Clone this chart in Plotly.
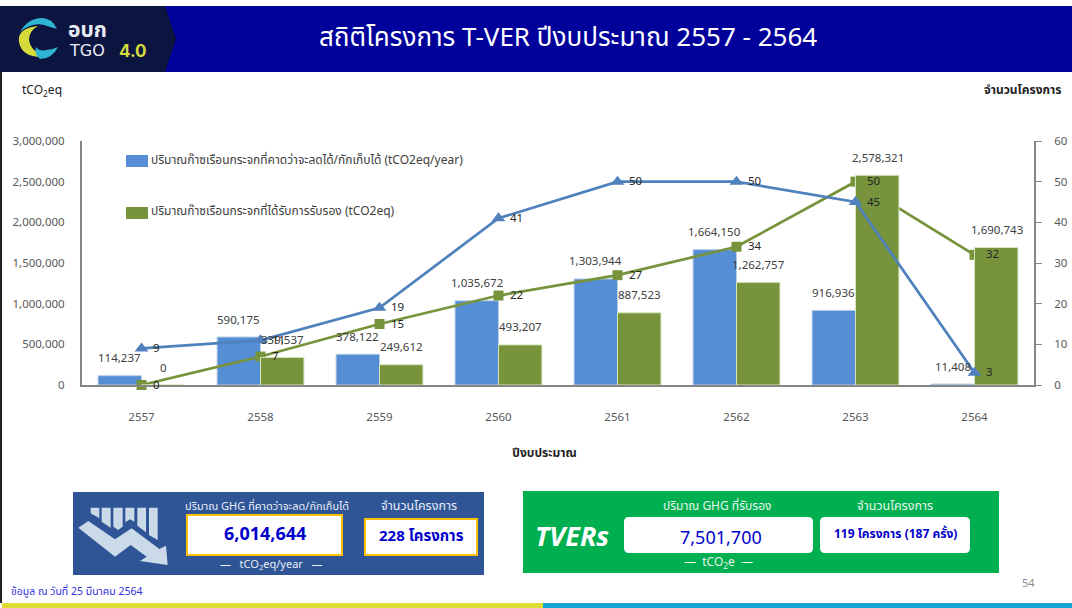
import plotly.graph_objects as go

# ---- data ----
years = ["2557", "2558", "2559", "2560", "2561", "2562", "2563", "2564"]
expected_ghg = [114237, 590175, 378122, 1035672, 1303944, 1664150, 916936, 11408]
certified_ghg = [0, 339537, 249612, 493207, 887523, 1262757, 2578321, 1690743]
registered_projects = [9, 11, 19, 41, 50, 50, 45, 3]
certified_projects = [0, 7, 15, 22, 27, 34, 50, 32]
name_expected = "ปริมาณก๊าซเรือนกระจกที่คาดว่าจะลดได้/กักเก็บได้ (tCO2eq/year)"
name_certified = "ปริมาณก๊าซเรือนกระจกที่ได้รับการรับรอง (tCO2eq)"
title_text = "สถิติโครงการ T-VER ปีงบประมาณ 2557 - 2564"

W, H = 1072, 608
L, R, T, B = 82, 1034, 141, 385
FONT = "Tahoma, 'Noto Sans Thai', 'Noto Sans', sans-serif"
BLUE_BAR, GREEN = "#558ED5", "#77933C"
BLUE_LINE = "#4F81BD"
AXIS = "#868686"
TXT = "#404040"
TICK = "#595959"


def fx(x):
    return (x - L) / (R - L)


def fy(y):
    return (B - y) / (B - T)


shapes, annos = [], []


def rect(x0, y0, x1, y1, fill, line=None, lw=0):
    shapes.append(dict(type="rect", xref="paper", yref="paper", x0=fx(x0), x1=fx(x1), y0=fy(y1), y1=fy(y0),
                       fillcolor=fill, line=dict(color=line or fill, width=lw), layer="below"))


def poly(points, fill):
    d = "M " + " L ".join(f"{fx(a):.5f},{fy(b):.5f}" for a, b in points) + " Z"
    shapes.append(dict(type="path", xref="paper", yref="paper", path=d, fillcolor=fill, line=dict(width=0), layer="below"))


def curve(cmds, fill):
    out = []
    for c in cmds:
        out.append(c[0] + " " + " ".join(f"{fx(c[i]):.5f},{fy(c[i+1]):.5f}" for i in range(1, len(c), 2)))
    shapes.append(dict(type="path", xref="paper", yref="paper", path=" ".join(out) + " Z", fillcolor=fill,
                       line=dict(width=0), layer="below"))


def round_rect(x0, y0, x1, y1, r, fill):
    curve([("M", x0 + r, y0), ("L", x1 - r, y0), ("Q", x1, y0, x1, y0 + r), ("L", x1, y1 - r), ("Q", x1, y1, x1 - r, y1),
           ("L", x0 + r, y1), ("Q", x0, y1, x0, y1 - r), ("L", x0, y0 + r), ("Q", x0, y0, x0 + r, y0)], fill)


def label(x, y, text, size=12, color=TXT, anchor="center", bold=False, family=FONT):
    annos.append(dict(xref="paper", yref="paper", x=fx(x), y=fy(y), text=f"<b>{text}</b>" if bold else text,
                      showarrow=False, xanchor=anchor, yanchor="middle",
                      font=dict(size=size, color=color, family=family)))


# header
rect(0, 6, W, 72, "#00009A")
poly([(0, 6), (165, 6), (176, 39), (165, 72), (0, 72)], "#0C1440")
rect(0, 72, 2, 603, "#222222")
curve([("M", 38, 26), ("Q", 17, 28, 19, 42), ("Q", 22, 58, 44, 57), ("Q", 30, 50, 29, 40), ("Q", 29, 31, 38, 26)], "#D6DB3C")
curve([("M", 20, 32), ("Q", 28, 18, 42, 18), ("Q", 52, 18, 57, 29), ("Q", 50, 27, 44, 25), ("Q", 32, 22, 20, 32)], "#2FB4D2")
curve([("M", 40, 59), ("Q", 52, 59, 58, 47), ("Q", 52, 50, 46, 50), ("Q", 40, 52, 36, 47), ("Q", 34, 54, 40, 59)], "#2FB4D2")
label(87, 30, "อบก", 21, "#E8ECF2", bold=True)
label(87, 51, "TGO", 16, "#E8ECF2", family="'DejaVu Sans', sans-serif")
label(133, 51, "4.0", 17, "#D6DB3C", bold=True, family="Inter, sans-serif")
label(568, 38, title_text, 26, "#FFFFFF")

# axis captions
label(42, 91, "tCO<sub>2</sub>eq", 12, "#222222")
label(1063, 90, "จำนวนโครงการ", 12, "#222222", anchor="right", bold=True)
label(544, 453, "ปีงบประมาณ", 12, "#222222", bold=True)

# legend
rect(126, 155, 148, 167, BLUE_BAR)
rect(126, 207, 148, 219, GREEN)
label(149, 160, name_expected, 12, TXT, anchor="left")
label(149, 211, name_certified, 12, TXT, anchor="left")

# blue panel
rect(73, 492, 484, 575, "#2F5597")
ICON = "#CADAE8"
ox, oy = 0, 485
icon_bars = [
    [(272, 68), (298, 68), (298, 100), (272, 85)],
    [(305, 68), (332, 68), (332, 128), (305, 110)],
    [(340, 68), (368, 68), (368, 125), (354, 135), (340, 125)],
    [(376, 68), (403, 68), (403, 110), (390, 103), (376, 112)],
    [(412, 68), (438, 68), (438, 142), (412, 122)],
    [(447, 68), (473, 68), (473, 165), (447, 150)],
    [(235, 128), (265, 108), (345, 163), (395, 130), (478, 192), (498, 182), (503, 240), (420, 228),
     (440, 215), (392, 180), (345, 215)],
]
for b in icon_bars:
    poly([(ox + a / 3, oy + c / 3) for a, c in b], ICON)
rect(187, 515, 342, 555, "#FFFFFF", "#FFC000", 2)
rect(365, 519, 477, 555, "#FFFFFF", "#FFC000", 2)
label(267, 506, "ปริมาณ GHG ที่คาดว่าจะลด/กักเก็บได้", 11, "#E8EEF6")
label(419, 506, "จำนวนโครงการ", 12.5, "#E8EEF6")
label(265, 534, "6,014,644", 18, "#0000CC", bold=True)
label(421, 536, "228 โครงการ", 15, "#0000CC", bold=True)
label(271, 564, "—   tCO<sub>2</sub>eq/year   —", 11, "#E8EEF6")

# green panel
rect(523, 491, 999, 573, "#00B050")
round_rect(624, 517, 813, 553, 5, "#FFFFFF")
round_rect(820, 517, 970, 553, 5, "#FFFFFF")
label(572, 535, "<b><i>TVERs</i></b>", 27, "#FFFFFF", family="'Open Sans', sans-serif")
label(717, 506, "ปริมาณ GHG ที่รับรอง", 12, "#E8F6EE")
label(895, 506, "จำนวนโครงการ", 12.5, "#E8F6EE")
label(721, 538, "7,501,700", 18, "#0000CC")
label(895, 534, "119 โครงการ (187 ครั้ง)", 12, "#0000CC", bold=True)
label(718, 563, "—  tCO<sub>2</sub>e  —", 12, "#E8F6EE")

# footer
label(9, 592, "ข้อมูล ณ วันที่ 25 มีนาคม 2564", 10.5, "#3333DD", anchor="left")
label(1028, 583, "54", 11, "#8C8C8C")
rect(2, 603, 543, 608, "#DDDD33")
rect(543, 603, W, 608, "#13A5D6")

# data labels, placed from the data values on the axes (category axis positions are serial numbers)
for i, v in enumerate(expected_ghg):
    annos.append(dict(x=i, y=v, xref="x", yref="y", text=f"{v:,}", showarrow=False, xshift=-22, yshift=17,
                      yanchor="middle", font=dict(size=11.5, color=TXT, family=FONT)))
for i, v in enumerate(certified_ghg):
    annos.append(dict(x=i, y=v, xref="x", yref="y", text=f"{v:,}", showarrow=False, xshift=22, yshift=17,
                      yanchor="middle", font=dict(size=11.5, color=TXT, family=FONT)))
for i, v in enumerate(registered_projects):
    annos.append(dict(x=i, y=v, xref="x", yref="y2", text=str(v), showarrow=False, xshift=9, xanchor="left",
                      yanchor="middle", font=dict(size=11.5, color="#262626", family=FONT)))
for i, v in enumerate(certified_projects):
    annos.append(dict(x=i, y=v, xref="x", yref="y2", text=str(v), showarrow=False, xshift=9, xanchor="left",
                      yanchor="middle", font=dict(size=11.5, color="#262626", family=FONT)))

fig = go.Figure()
# draw order in the source: blue bars, green line, green bars, blue line
fig.add_bar(x=years, y=expected_ghg, name=name_expected, yaxis="y", width=0.365, offset=-0.365,
            marker=dict(color=BLUE_BAR, line=dict(color="#B9CDE5", width=1)))
fig.add_scatter(x=years, y=certified_projects, yaxis="y2", mode="lines+markers", cliponaxis=False,
                name="จำนวนโครงการที่รับรอง",
                line=dict(color=GREEN, width=2.75), marker=dict(symbol="square", size=10, color=GREEN))
fig.add_bar(x=years, y=certified_ghg, name=name_certified, yaxis="y3", width=0.365, offset=0,
            marker=dict(color=GREEN, line=dict(color="#D7E4BD", width=1)))
fig.add_scatter(x=years, y=registered_projects, yaxis="y4", mode="lines+markers", cliponaxis=False,
                name="จำนวนโครงการที่ขึ้นทะเบียน",
                line=dict(color=BLUE_LINE, width=2.75), marker=dict(symbol="triangle-up", size=12, color=BLUE_LINE))

left_range, right_range = [0, 3000000], [0, 60]
fig.update_layout(
    width=W, height=H, margin=dict(l=L, r=W - R, t=T, b=H - B, autoexpand=False),
    paper_bgcolor="#FFFFFF", plot_bgcolor="rgba(0,0,0,0)", showlegend=False,
    font=dict(family=FONT, size=12, color=TXT),
    xaxis=dict(type="category", range=[-0.5, 7.5], showgrid=False, showline=True, linecolor=AXIS, linewidth=2,
               ticks="", ticklabelstandoff=20, zeroline=False, tickfont=dict(size=11.5, color=TICK)),
    yaxis=dict(range=left_range, tickvals=[0, 500000, 1000000, 1500000, 2000000, 2500000, 3000000],
               tickformat=",d", showgrid=False, showline=True, linecolor=AXIS, linewidth=2, ticks="",
               ticklabelstandoff=13, zeroline=False, tickfont=dict(size=11.5, color=TICK)),
    yaxis2=dict(range=right_range, overlaying="y", side="right", tickvals=[0, 10, 20, 30, 40, 50, 60],
                showgrid=False, showline=True, linecolor=AXIS, linewidth=2, ticks="outside", ticklen=6,
                tickcolor=AXIS, tickwidth=1, zeroline=False, ticklabelstandoff=10, tickfont=dict(size=11.5, color=TICK)),
    yaxis3=dict(range=left_range, overlaying="y", visible=False),
    yaxis4=dict(range=right_range, overlaying="y", visible=False),
    shapes=shapes, annotations=annos,
)
fig.write_html("out.html", config={"displayModeBar": False}, post_script="document.body.style.margin='0';")
